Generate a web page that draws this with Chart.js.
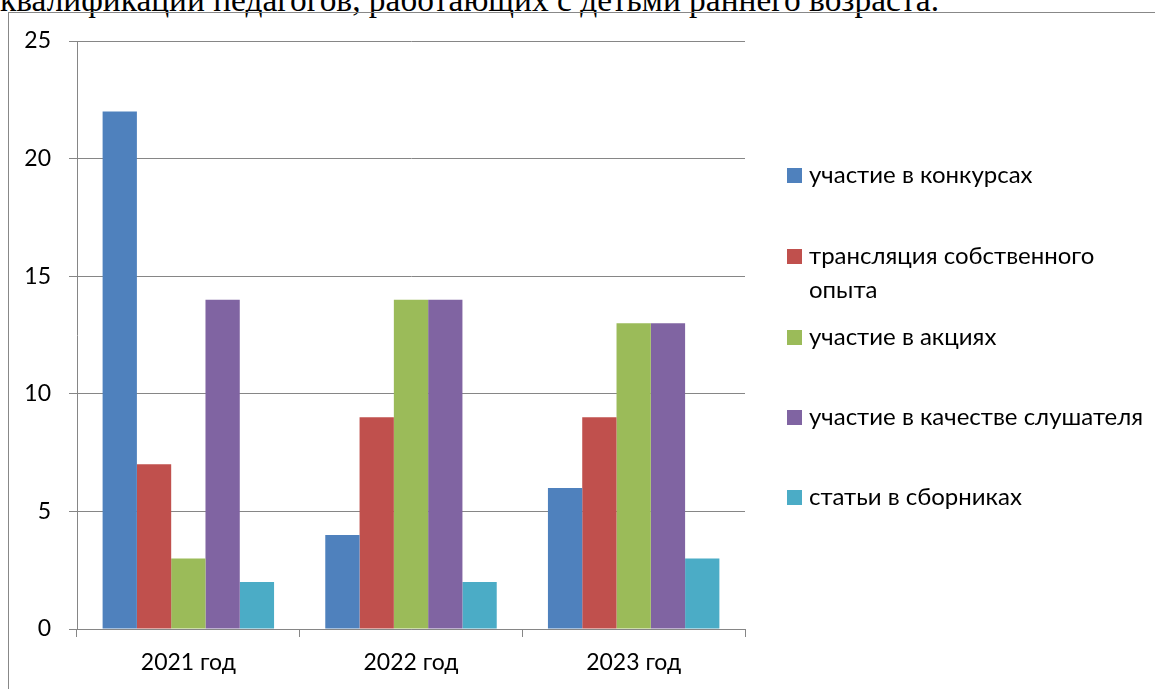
<!DOCTYPE html>
<html><head><meta charset="utf-8">
<script src="https://cdn.jsdelivr.net/npm/chart.js@4"></script>
<style>
html,body{margin:0;padding:0;background:#fff;width:1155px;height:689px;overflow:hidden;position:relative}
#title{position:absolute;left:0px;top:-16px;font-family:"Liberation Serif","Times New Roman",serif;font-size:33.4px;line-height:32px;white-space:nowrap;color:#000}
#frame{position:absolute;left:8px;top:12px;width:1300px;height:800px;border-left:1px solid #888;border-top:1px solid #888;box-sizing:border-box;background:transparent}
#c{position:absolute;left:0;top:0}
.li{position:absolute;left:787px;font-family:Lato,"Open Sans",sans-serif;font-size:24px;line-height:34px;color:#000}
.li .m{position:absolute;left:0;top:11px;width:15px;height:15px}
.li .t{position:absolute;left:22px;top:0;width:350px;white-space:nowrap}
</style></head>
<body>
<div id="title">квалификации педагогов, работающих с детьми раннего возраста.</div>
<div id="frame"></div>
<canvas id="c" width="1155" height="689"></canvas>
<div id="legend"></div>
<script>
const categories = ["2021 год", "2022 год", "2023 год"];
const seriesNames = ["участие в конкурсах", "трансляция собственного опыта", "участие в акциях", "участие в качестве слушателя", "статьи в сборниках"];
const seriesColors = ["#4F81BD", "#C0504D", "#9BBB59", "#8064A2", "#4BACC6"];
const konkursy = [22, 4, 6];
const translyaciya = [7, 9, 9];
const akcii = [3, 14, 13];
const slushatel = [14, 14, 13];
const stati = [2, 2, 3];
const seriesValues = [konkursy, translyaciya, akcii, slushatel, stati];
const yTicks = [0, 5, 10, 15, 20, 25];

const FONT = {family: "Lato, 'Open Sans', sans-serif", size: 23};
const GRID = "#868686";

new Chart(document.getElementById("c"), {
  type: "bar",
  data: {
    labels: categories,
    datasets: seriesNames.map((n, i) => ({
      label: n, data: seriesValues[i], backgroundColor: seriesColors[i],
      borderWidth: 0, barPercentage: 1, categoryPercentage: 0.77
    }))
  },
  options: {
    responsive: false, animation: false,
    layout: {padding: {left: 0, top: 41, right: 410, bottom: 0}},
    plugins: {legend: {display: false}, tooltip: {enabled: false}},
    scales: {
      x: {
        grid: {drawOnChartArea: false, tickLength: 8, color: GRID, offset: true},
        border: {color: GRID},
        ticks: {font: FONT, color: "#000", padding: 12},
        afterFit: s => { s.height = 60; }
      },
      y: {
        min: 0, max: 25,
        afterBuildTicks: s => { s.ticks = yTicks.map(v => ({value: v})); },
        grid: {color: GRID, tickLength: 8},
        border: {color: GRID},
        ticks: {font: FONT, color: "#000", padding: 18},
        afterFit: s => { s.width = 77; }
      }
    }
  }
});

const tops = [157, 238, 319, 399, 479];
const leg = document.getElementById("legend");
seriesNames.forEach((n, i) => {
  const d = document.createElement("div");
  d.className = "li"; d.style.top = tops[i] + "px";
  const txt = i === 1 ? "трансляция собственного<br>опыта" : n;
  d.innerHTML = '<span class="m" style="background:' + seriesColors[i] + '"></span><span class="t">' + txt + '</span>';
  leg.appendChild(d);
});
</script>
</body></html>
